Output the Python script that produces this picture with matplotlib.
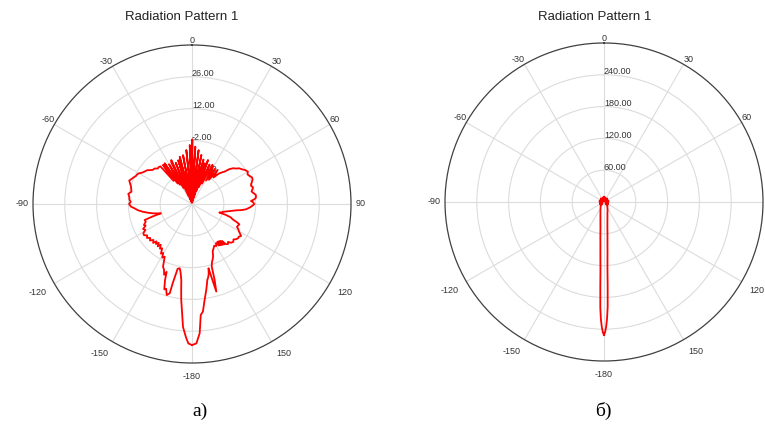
import numpy as np
import matplotlib
matplotlib.use('Agg')
import matplotlib.pyplot as plt

# pattern a), dB over angle (deg, clockwise from top)
ang_a = [-180, -178.5, -177.5, -176.8, -175.8, -174.8, -173.6, -172.8, -172, -170.5,
         -169.2, -167.5, -166.8, -166.3, -166, -164.5, -163, -162, -160.5, -159.5,
         -158.5, -157, -155.2, -154, -152.6, -151, -149.5, -148, -146, -144.3,
         -142.5, -141, -139.5, -138, -136.5, -135, -133, -131, -129, -127,
         -125, -123, -121, -119, -117, -115, -113.5, -111, -108.7, -107.5,
         -106.7, -105, -103.3, -101, -98.9, -96.5, -94, -92.5, -90, -88,
         -86, -83.4, -81, -78.5, -76.5, -74.2, -72, -69.5, -67.5, -66,
         -63.5, -61.5, -59.8, -57.5, -55.9, -53, -51, -49.1, -46.5, -44,
         -42, -40, -38.5, -36.5, -35, -33.9, -32, -30, -28, -26.5,
         -25.2, -23.5, -21.5, -19.5, -17.5, -16, -14.6, -12.5, -10.4, -8.5,
         -6, -4, -2.2, -1, 0.3, 1.5, 3.3, 5, 7, 8.8,
         10.8, 12.5, 14.5, 16, 17.3, 18.5, 20, 22, 24, 26,
         27.5, 29.4, 31, 33, 35, 37, 39, 41.6, 43.5, 45,
         47, 49, 51, 53, 55, 57.5, 59.9, 62, 64, 66,
         67.9, 70, 71.5, 73, 74.5, 76, 78, 79.4, 81, 82,
         84.4, 85.8, 87.1, 88.5, 90.2, 92, 93.7, 95.6, 97, 98.2,
         100, 101.5, 104, 106, 107.3, 107.8, 109, 110.6, 112, 113.2,
         115, 117, 118.5, 120, 121.5, 123.1, 125, 126.5, 128.7, 130.5,
         132.5, 134.8, 136.5, 138, 139.8, 141, 141.8, 142.6, 143.4, 144.2,
         145, 146, 147, 148.5, 150, 152, 154, 156.2, 158, 159.5,
         161, 162.5, 163.4, 164.5, 165.1, 165.6, 166.5, 167.5, 168.6, 169.5,
         170.6, 172.6, 174.2, 175.5, 176.6, 178.2, 180]
db_a = [32.1, 31.4, 29, 27, 24.2, 18.3, 12.5, 8, 3.8, 0.5,
        -1.2, -0.8, 3, 6, 10.5, 11.6, 9, 9.5, 5.6, 1.9,
        3.5, 1.5, 0.4, -1.8, -3.9, -3, -5, -4.2, -6.5, -5.8,
        -7.4, -6, -7.5, -6.3, -7.3, -5.8, -6.8, -5.5, -6.3, -5.2,
        -5.9, -4.8, -5.0, -6.5, -5.8, -7.5, -6.9, -8.2, -8, -12,
        -15.7, -14, -12.2, -10, -8, -6, -4.4, -3.1, -2.3, -3,
        -2.4, -2.2, -1.6, -2.8, -2.5, -2.1, -1.4, -0.5, -1.2, -1.6,
        -2.4, -2.6, -3.1, -4.2, -4.6, -5.3, -6.3, -7.1, -7.3, -8.3,
        -8.1, -8.4, -17, -8.6, -19, -8.4, -20, -9.8, -22, -9.5,
        -8.6, -26, -10.5, -28, -9.8, -29, -8.5, -29, -8.1, -29,
        -6.1, -29.5, -4, -29, -1.5, -29, -4.7, -29, -6.1, -29,
        -8, -28, -9.8, -27, -11.2, -24, -9.4, -22, -11, -20,
        -10.5, -11.2, -18, -11.5, -17, -11.2, -15, -12, -10.8, -9.9,
        -7.5, -6, -5.2, -3.9, -3.3, -2.2, -1.6, -2.3, -1.8, -1.1,
        -1.2, -2, -2.6, -2.8, -2.2, -2.5, -3.2, -2.8, -2, -1.6,
        -1.7, -2.6, -4, -3, -2.6, -3.6, -4.7, -6.1, -8, -10.4,
        -12.5, -14, -15.8, -16.6, -17.4, -14.4, -12, -10.9, -8.8, -7.3,
        -7.6, -7.8, -6.8, -6.2, -5.3, -4.2, -4.9, -4.7, -5.2, -6,
        -5.3, -5.8, -7, -6.3, -6.8, -9, -7.3, -9.5, -7.6, -9.8,
        -7.9, -10, -8.2, -9.8, -8.6, -9.2, -8.3, -7.4, -5.2, -4,
        -3, -1.1, 4.9, 10, 3.1, -0.8, 1.5, 3, 4.1, 6,
        8.4, 12.8, 17.6, 19, 27, 31.4, 32.1]

# pattern б), linear
ang_b = [-180, -179.5, -179, -178.5, -178, -177.5, -177, -176, -175, -174,
         -172, -170, -167, -163, -158, -150, -140, -130, -120, -110,
         -100, -90, -80, -70, -60, -50, -40, -30, -20, -10,
         -5, 0, 5, 10, 20, 30, 40, 50, 60, 70,
         80, 90, 100, 110, 120, 130, 140, 150, 158, 163,
         167, 170, 172, 174, 175, 176, 177, 177.5, 178, 178.5,
         179, 179.5, 180]
val_b = [251, 246, 236, 222, 200, 160, 128, 98, 78, 66,
         48, 39, 30, 23, 18, 13, 10, 4, 9, 3,
         8, 3, 9, 3, 8, 3, 9, 3, 8, 3,
         10, 4, 10, 3, 8, 3, 9, 3, 8, 3,
         9, 3, 8, 3, 9, 4, 10, 13, 18, 22,
         29, 37, 46, 63, 75, 95, 124, 158, 198, 220,
         235, 245, 251]

rings_a = [-16, -2, 12, 26]
rings_b = [60, 120, 180, 240]
theta_lab = [0, 30, 60, 90, 120, 150, 180, -150, -120, -90, -60, -30]
theta_txt = ['0', '30', '60', '90', '120', '150', '-180', '-150', '-120', '-90', '-60', '-30']

LineCol = 'red'
GridCol = '#dcdcdc'
EdgeCol = '#404040'
TxtCol = '#333333'

plt.rcParams['font.family'] = ['Liberation Sans', 'DejaVu Sans']

fig = plt.figure(figsize=(7.65, 4.25), dpi=100)


def panel(rect, ang, val, rings, rmin, rmax, skip=()):
    ax = fig.add_axes(rect, projection='polar')
    ax.set_theta_zero_location('N')
    ax.set_theta_direction(-1)
    ax.set_ylim(rmin, rmax)
    ax.set_xticks(np.radians(np.arange(0, 360, 30)))
    ax.set_xticks(np.radians(np.arange(0, 360, 5)), minor=True)
    ax.set_xticklabels([])
    ax.set_yticks(rings)
    ax.set_yticklabels([])
    ax.grid(True, color=GridCol, linewidth=0.8)
    ax.tick_params(axis='x', which='major', direction='in', length=6, width=0.8, color=EdgeCol)
    ax.tick_params(axis='x', which='minor', direction='in', length=3.5, width=0.7, color=EdgeCol)
    ax.tick_params(axis='y', length=0)
    ax.spines['polar'].set_color(EdgeCol)
    ax.spines['polar'].set_linewidth(0.9)

    span = rmax - rmin
    for r in rings:
        ax.text(0, r + 0.02 * span, '%.2f' % r, ha='left', va='center',
                fontsize=6.5, color=TxtCol, zorder=2)
    for t, s in zip(theta_lab, theta_txt):
        if t in skip:
            continue
        th = np.radians(t)
        sx, cy = np.sin(th), np.cos(th)
        ha = 'left' if sx > 0.3 else ('right' if sx < -0.3 else 'center')
        if cy > 0.3:
            va, off = 'bottom', 0.0
        elif cy < -0.3:
            va, off = 'top', 0.055
        else:
            va, off = 'center', 0.03
        ax.text(th, rmax + off * span, s, ha=ha, va=va, fontsize=6.5,
                color=TxtCol, clip_on=False)

    ax.plot(np.radians(ang), val, color=LineCol, linewidth=1.3, zorder=3, clip_on=False)
    return ax


axA = panel([33 / 765, 1 - 363 / 425, 318 / 765, 318 / 425], ang_a, db_a, rings_a, -30, 40)
axB = panel([445 / 765, 1 - 361 / 425, 318 / 765, 318 / 425], ang_b, val_b, rings_b, 0, 300, skip=(90,))

fig.text(182 / 765, 1 - 17 / 425, 'Radiation Pattern 1', ha='center', va='center', fontsize=9.5, color='#222222')
fig.text(595 / 765, 1 - 17 / 425, 'Radiation Pattern 1', ha='center', va='center', fontsize=9.5, color='#222222')
fig.text(200 / 765, 1 - 411 / 425, 'а)', ha='center', va='center', fontsize=14, family='Liberation Serif')
fig.text(603 / 765, 1 - 411 / 425, 'б)', ha='center', va='center', fontsize=14, family='Liberation Serif')

plt.savefig('out.png', dpi=100)
